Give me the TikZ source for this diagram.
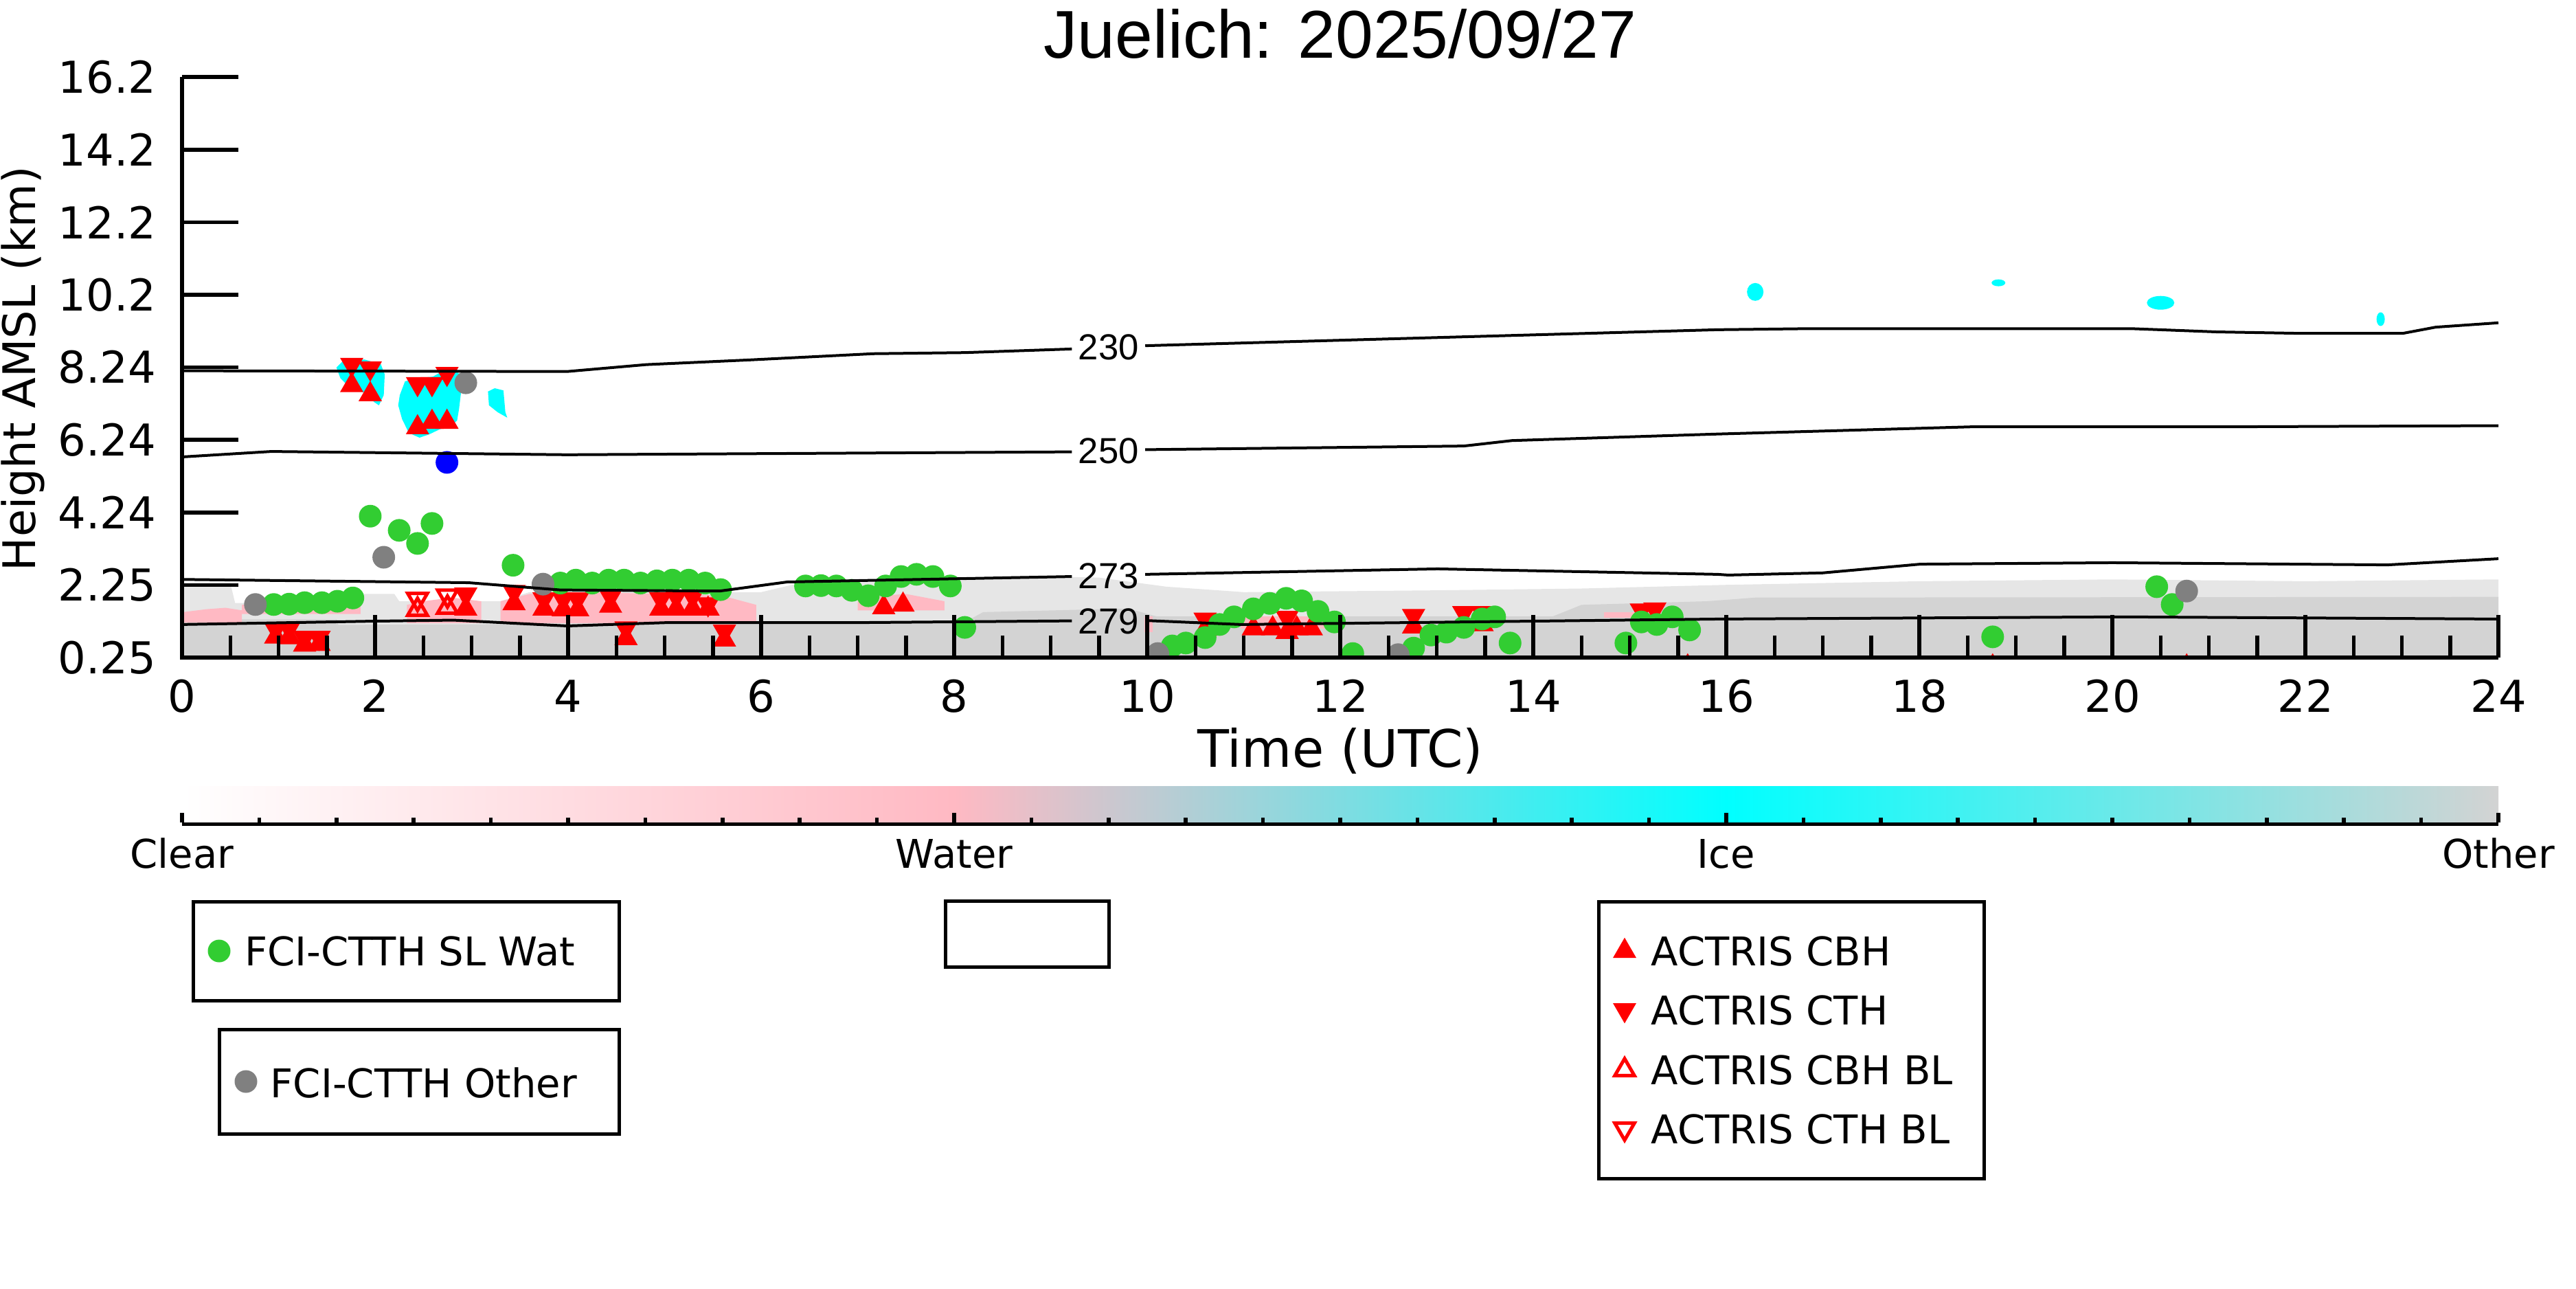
\documentclass[tikz,border=0pt]{standalone}
\usepackage{fontspec}
\setmainfont{DejaVu Sans}
\newfontfamily\helvfont{Liberation Sans}
\usetikzlibrary{shapes.geometric}

\definecolor{watgreen}{RGB}{50,205,50}
\definecolor{othgray}{RGB}{128,128,128}
\definecolor{cmwater}{RGB}{255,185,195}
\definecolor{cmice}{RGB}{0,255,255}
\definecolor{cmother}{RGB}{211,211,211}
\definecolor{cmspeck}{RGB}{230,230,230}

\newcommand\tickfont{\fontsize{18.2pt}{20pt}\selectfont}
\newcommand\xtitlefont{\fontsize{21.4pt}{24pt}\selectfont}
\newcommand\ytitlefont{\fontsize{18.6pt}{21pt}\selectfont}
\newcommand\legfont{\fontsize{16.4pt}{19pt}\selectfont}
\newcommand\isofont{\helvfont\fontsize{15pt}{17pt}\selectfont}
\newcommand\plottitlefont{\helvfont\fontsize{28pt}{30pt}\selectfont}

\tikzset{
  wat_pt/.style={circle,inner sep=0pt,minimum size=.33cm,fill=watgreen},
  oth_pt/.style={circle,inner sep=0pt,minimum size=.33cm,fill=othgray},
  blu_pt/.style={circle,inner sep=0pt,minimum size=.33cm,fill=blue},
  cbh_pt/.style={regular polygon,regular polygon sides=3,inner sep=0pt,minimum size=.392cm,fill=red},
  cth_pt/.style={cbh_pt,shape border rotate=180},
  cbhbl_pt/.style={regular polygon,regular polygon sides=3,inner sep=0pt,minimum size=.33cm,draw=red,line width=.05cm},
  cthbl_pt/.style={cbhbl_pt,shape border rotate=180},
}

\begin{document}
\begin{tikzpicture}[
  axis line/.style={line width=.055cm},
  iso line/.style={line width=.04cm},
  box line/.style={line width=.05cm},
  ]
  \useasboundingbox (0,0) rectangle (37.5,-18.75);

  \node[anchor=base,inner sep=0pt,font=\plottitlefont] (title) at (19.51,-.84) {Juelich: 2025/09/27};

  % data part: time (h) on x, height (km) on y
  \begin{scope}[shift={(2.65cm,-9.70225cm)},x=1.405cm,y=.529cm]
    \begin{scope}
      \clip (0,.25) rectangle (24,16.2);

      % cloud phase mask
      \fill[cmspeck] (0,.25) -- (0,2.3) -- (.5,2.3) -- (.55,1.75) -- (1.6,1.75) -- (1.65,2.0) -- (2.2,2.0)
        -- (2.25,1.8) -- (3.3,1.8) -- (3.6,2.05) -- (6.0,2.05) -- (6.4,2.3) -- (8.0,2.35) -- (8.6,2.5)
        -- (9.5,2.45) -- (10.2,2.2) -- (11,2.05) -- (13,2.1) -- (14.5,2.15) -- (16,2.25) -- (18,2.35)
        -- (20,2.4) -- (22,2.35) -- (24,2.4) -- (24,.25) -- cycle;
      \fill[cmother] (0,.25) -- (0,1.22) -- (.6,1.22) -- (.62,1.3) -- (1.6,1.3) -- (1.62,1.15) -- (6.0,1.2)
        -- (6.3,1.21) -- (8.1,1.21) -- (8.3,1.5) -- (9.8,1.6) -- (10.1,1.38) -- (14.2,1.38) -- (14.5,1.7)
        -- (15.8,1.8) -- (16.3,1.9) -- (24,1.92) -- (24,.25) -- cycle;
      \fill[cmwater] (.01,1.21) -- (.62,1.21) -- (.62,1.55) -- (.45,1.62) -- (.25,1.58) -- (.01,1.5) -- cycle;
      \fill[cmwater] (.62,1.45) -- (1.85,1.45) -- (1.85,1.7) -- (1.3,1.78) -- (.9,1.75) -- (.62,1.7) -- cycle;
      \fill[cmwater] (2.33,1.2) -- (3.1,1.2) -- (3.1,1.8) -- (2.8,1.9) -- (2.5,1.8) -- (2.33,1.7) -- cycle;
      \fill[cmwater] (3.3,1.2) -- (5.95,1.2) -- (5.95,1.7) -- (5.6,1.95) -- (5.0,2.0) -- (4.2,2.05) -- (3.6,2.0) -- (3.3,1.8) -- cycle;
      \fill[cmwater] (7.0,1.55) -- (7.9,1.55) -- (7.9,1.8) -- (7.5,2.0) -- (7.0,1.9) -- cycle;
      \fill[cmwater] (9.97,.95) rectangle (10.06,1.38);
      \fill[cmwater] (10.97,1.05) rectangle (11.96,1.38);
      \fill[cmwater] (14.73,1.35) rectangle (15.15,1.5);
      \fill[cmice] (1.60,8.23) -- (1.67,8.42) -- (1.89,8.45) -- (2.06,8.32) -- (2.10,8.04) -- (2.09,7.47) -- (2.04,7.19)
        -- (1.99,7.28) -- (1.92,7.47) -- (1.81,7.66) -- (1.71,7.75) -- (1.64,7.94) -- cycle;
      \fill[cmice] (2.256,7.47) -- (2.31,7.85) -- (2.46,7.94) -- (2.60,7.98) -- (2.70,8.13) -- (2.81,8.17) -- (2.88,8.04)
        -- (2.90,7.75) -- (2.87,7.09) -- (2.85,6.77) -- (2.78,6.62) -- (2.67,6.53) -- (2.56,6.39) -- (2.46,6.30)
        -- (2.35,6.43) -- (2.28,6.81) -- (2.24,7.19) -- cycle;
      \fill[cmice] (3.17,7.57) -- (3.24,7.66) -- (3.33,7.60) -- (3.35,7.00) -- (3.37,6.85) -- (3.27,7.00) -- (3.18,7.19) -- cycle;
      \fill[cmice] (16.30,10.31) ellipse [x radius=.12cm, y radius=.13cm];
      \fill[cmice] (18.82,10.56) ellipse [x radius=.1cm, y radius=.05cm];
      \fill[cmice] (20.50,10.01) ellipse [x radius=.2cm, y radius=.1cm];
      \fill[cmice] (22.78,9.56) ellipse [x radius=.06cm, y radius=.1cm];

      % ACTRIS
      \foreach \Point in {(1.758,8.31),(1.95,8.21),(2.44,7.78),(2.59,7.78),(2.745,8.06),
        (.97,1.03),(1.11,1.05),(1.27,.80),(1.42,.80),(2.94,1.99),(3.44,2.06),(3.75,1.86),(3.95,1.86),
        (4.10,1.86),(4.44,1.93),(4.60,1.06),(4.96,1.86),(5.12,1.93),(5.29,1.93),(5.45,1.72),(5.62,.97),
        (10.60,1.30),(11.45,1.35),(12.76,1.40),(13.28,1.48),(13.47,1.48),(15.12,1.55),(15.26,1.58)}{
        \draw \Point node[cth_pt]{};
      }
      \foreach \Point in {(1.758,7.74),(1.95,7.49),(2.44,6.58),(2.59,6.73),(2.745,6.73),
        (.97,.82),(1.11,.80),(1.27,.60),(1.42,.62),(2.94,1.59),(3.44,1.74),(3.75,1.59),(3.95,1.57),
        (4.10,1.57),(4.44,1.67),(4.60,.78),(4.96,1.59),(5.12,1.59),(5.29,1.59),(5.45,1.59),(5.62,.74),
        (7.27,1.63),(7.47,1.70),(10.60,1.02),(11.10,1.05),(11.30,1.05),(11.45,.95),(11.55,1.05),
        (11.70,1.05),(12.76,1.10),(13.28,1.16),(13.47,1.16),(8.0,0),(15.6,0),(18.76,0),(20.77,0)}{
        \draw \Point node[cbh_pt]{};
      }
      \foreach \Point in {(2.44,1.86),(2.75,1.95)}{
        \draw \Point node[cthbl_pt]{};
      }
      \foreach \Point in {(2.44,1.57),(2.75,1.63)}{
        \draw \Point node[cbhbl_pt]{};
      }

      % FCI-CTTH
      \foreach \Point in {(.95,1.71),(1.11,1.72),(1.27,1.76),(1.45,1.76),(1.61,1.80),(1.77,1.89),
        (1.95,4.14),(2.25,3.75),(2.44,3.39),(2.59,3.94),(3.43,2.79),
        (3.92,2.30),(4.08,2.38),(4.25,2.30),(4.42,2.38),(4.58,2.38),(4.75,2.30),(4.92,2.36),(5.08,2.38),
        (5.25,2.38),(5.42,2.30),(5.58,2.12),
        (6.46,2.22),(6.62,2.23),(6.78,2.22),(6.94,2.10),(7.11,1.95),(7.29,2.22),(7.45,2.48),(7.61,2.54),
        (7.78,2.48),(7.96,2.22),(8.11,1.08),
        (10.26,.57),(10.40,.65),(10.60,.80),(10.75,1.16),(10.90,1.37),(11.10,1.59),(11.27,1.74),(11.44,1.88),
        (11.60,1.81),(11.77,1.52),(11.94,1.23),(12.13,.36),
        (12.76,.51),(12.94,.87),(13.10,.95),(13.28,1.08),(13.47,1.31),(13.60,1.37),(13.76,.65),
        (14.96,.65),(15.12,1.23),(15.28,1.16),(15.44,1.37),(15.62,1.01),
        (18.76,.82),(20.46,2.20),(20.62,1.71)}{
        \draw \Point node[wat_pt]{};
      }
      \foreach \Point in {(.76,1.71),(2.09,3.01),(2.94,7.81),(3.74,2.27),(10.11,.36),(12.60,.33),(20.77,2.08)}{
        \draw \Point node[oth_pt]{};
      }
      \draw (2.745,5.62) node[blu_pt]{};
    \end{scope}

    % isotherms
    \draw[iso line] (0,8.14) -- (3.99,8.12) -- (4.81,8.31) -- (5.89,8.44) -- (7.16,8.61) -- (8.11,8.64) -- (9.22,8.74);
    \draw[iso line] (9.98,8.83) -- (15.91,9.27) -- (16.88,9.30) -- (20.19,9.30) -- (21.08,9.21) -- (21.94,9.17)
      -- (23.01,9.17) -- (23.35,9.34) -- (24,9.46);
    \draw[iso line] (0,5.77) -- (.925,5.92) -- (3.99,5.83) -- (9.22,5.91);
    \draw[iso line] (9.98,5.97) -- (13.28,6.07) -- (13.78,6.22) -- (15.91,6.40) -- (18.56,6.60) -- (21.33,6.60) -- (24,6.63);
    \draw[iso line] (0,2.40) -- (2.97,2.31) -- (3.92,2.11) -- (5.57,2.08) -- (6.27,2.33) -- (9.22,2.48);
    \draw[iso line] (9.98,2.54) -- (13.01,2.69) -- (15.91,2.54) -- (16.02,2.52) -- (17.0,2.58) -- (18.01,2.82)
      -- (20.0,2.86) -- (22.85,2.80) -- (24,2.97);
    \draw[iso line] (0,1.16) -- (1.95,1.25) -- (2.81,1.28) -- (3.99,1.12) -- (5.0,1.21) -- (6.91,1.21) -- (9.22,1.26);
    \draw[iso line] (9.98,1.27) -- (10.97,1.16) -- (13.28,1.23) -- (15.91,1.31) -- (20.1,1.37) -- (24,1.31);
    \node[font=\isofont,inner sep=0pt] (iso230) at (9.60,8.78) {230};
    \node[font=\isofont,inner sep=0pt] (iso250) at (9.60,5.94) {250};
    \node[font=\isofont,inner sep=0pt] (iso273) at (9.60,2.50) {273};
    \node[font=\isofont,inner sep=0pt] (iso279) at (9.60,1.25) {279};
  \end{scope}

  % axes
  \draw[axis line] (2.65,-1.12) -- (2.65,-9.57) -- (36.37,-9.57);
  \foreach \lab [count=\i from 0] in {0.25,2.25,4.24,6.24,8.24,10.2,12.2,14.2,16.2}{
    \draw[axis line] (2.65,{-9.57+1.056*\i}) -- ++(.82,0);
    \node[anchor=east,inner sep=0pt,font=\tickfont] at (2.28,{-9.57+1.056*\i}) {\lab};
  }
  \foreach \j in {1,...,48}{
    \pgfmathsetmacro\ticklen{ifthenelse(mod(\j,4)==0,.62,.32)}
    \draw[axis line] ({2.65+.70250*\j},-9.57) -- ++(0,\ticklen);
  }
  \foreach \t in {0,2,...,24}{
    \node[anchor=base,inner sep=0pt,font=\tickfont] at ({2.65+1.405*\t},-10.36) {\t};
  }
  \node[anchor=base,inner sep=0pt,font=\xtitlefont] (xlab) at (19.51,-11.16) {Time (UTC)};
  \node[anchor=base,rotate=90,inner sep=0pt,font=\ytitlefont] (ylab) at (.52,-5.365) {Height AMSL (km)};

  % colour bar
  \shade[left color=white,right color=cmwater] (2.65,-11.44) rectangle (13.89,-11.97);
  \shade[left color=cmwater,right color=cmice] (13.89,-11.44) rectangle (25.13,-11.97);
  \shade[left color=cmice,right color=cmother] (25.13,-11.44) rectangle (36.37,-11.97);
  \draw[line width=.045cm] (2.65,-11.995) -- (36.37,-11.995);
  \foreach \k in {0,...,30}{
    \pgfmathsetmacro\ticklen{ifthenelse(mod(\k,10)==0,.14,.07)}
    \draw[axis line] ({2.65+1.124*\k},-11.97) -- ++(0,\ticklen);
  }
  \node[anchor=base,inner sep=0pt,font=\legfont] (cclear) at (2.65,-12.63) {Clear};
  \node[anchor=base,inner sep=0pt,font=\legfont] (cwater) at (13.89,-12.63) {Water};
  \node[anchor=base,inner sep=0pt,font=\legfont] (cice) at (25.13,-12.63) {Ice};
  \node[anchor=base,inner sep=0pt,font=\legfont] (cother) at (36.37,-12.63) {Other};

  % legends
  \draw[box line] (2.81,-13.12) rectangle (9.01,-14.56);
  \draw[box line] (3.19,-14.98) rectangle (9.01,-16.50);
  \draw[box line] (13.76,-13.11) rectangle (16.14,-14.07);
  \draw[box line] (23.27,-13.12) rectangle (28.88,-17.15);

  \node[wat_pt] (kwat) at (3.19,-13.84) {};
  \node[anchor=base west,inner sep=0pt,font=\legfont] (lwat) at (3.555,-14.05) {FCI-CTTH SL Wat};
  \node[oth_pt] (koth) at (3.58,-15.74) {};
  \node[anchor=base west,inner sep=0pt,font=\legfont] (loth) at (3.93,-15.97) {FCI-CTTH Other};

  \node[cbh_pt] (kcbh) at (23.65,-13.842) {};
  \node[anchor=base west,inner sep=0pt,font=\legfont] (lcbh) at (24.03,-14.057) {ACTRIS CBH};
  \node[cth_pt] (kcth) at (23.65,-14.698) {};
  \node[anchor=base west,inner sep=0pt,font=\legfont] (lcth) at (24.03,-14.917) {ACTRIS CTH};
  \node[cbhbl_pt] (kcbhbl) at (23.65,-15.572) {};
  \node[anchor=base west,inner sep=0pt,font=\legfont] (lcbhbl) at (24.03,-15.78) {ACTRIS CBH BL};
  \node[cthbl_pt] (kcthbl) at (23.65,-16.428) {};
  \node[anchor=base west,inner sep=0pt,font=\legfont] (lcthbl) at (24.03,-16.64) {ACTRIS CTH BL};
\end{tikzpicture}
\end{document}
